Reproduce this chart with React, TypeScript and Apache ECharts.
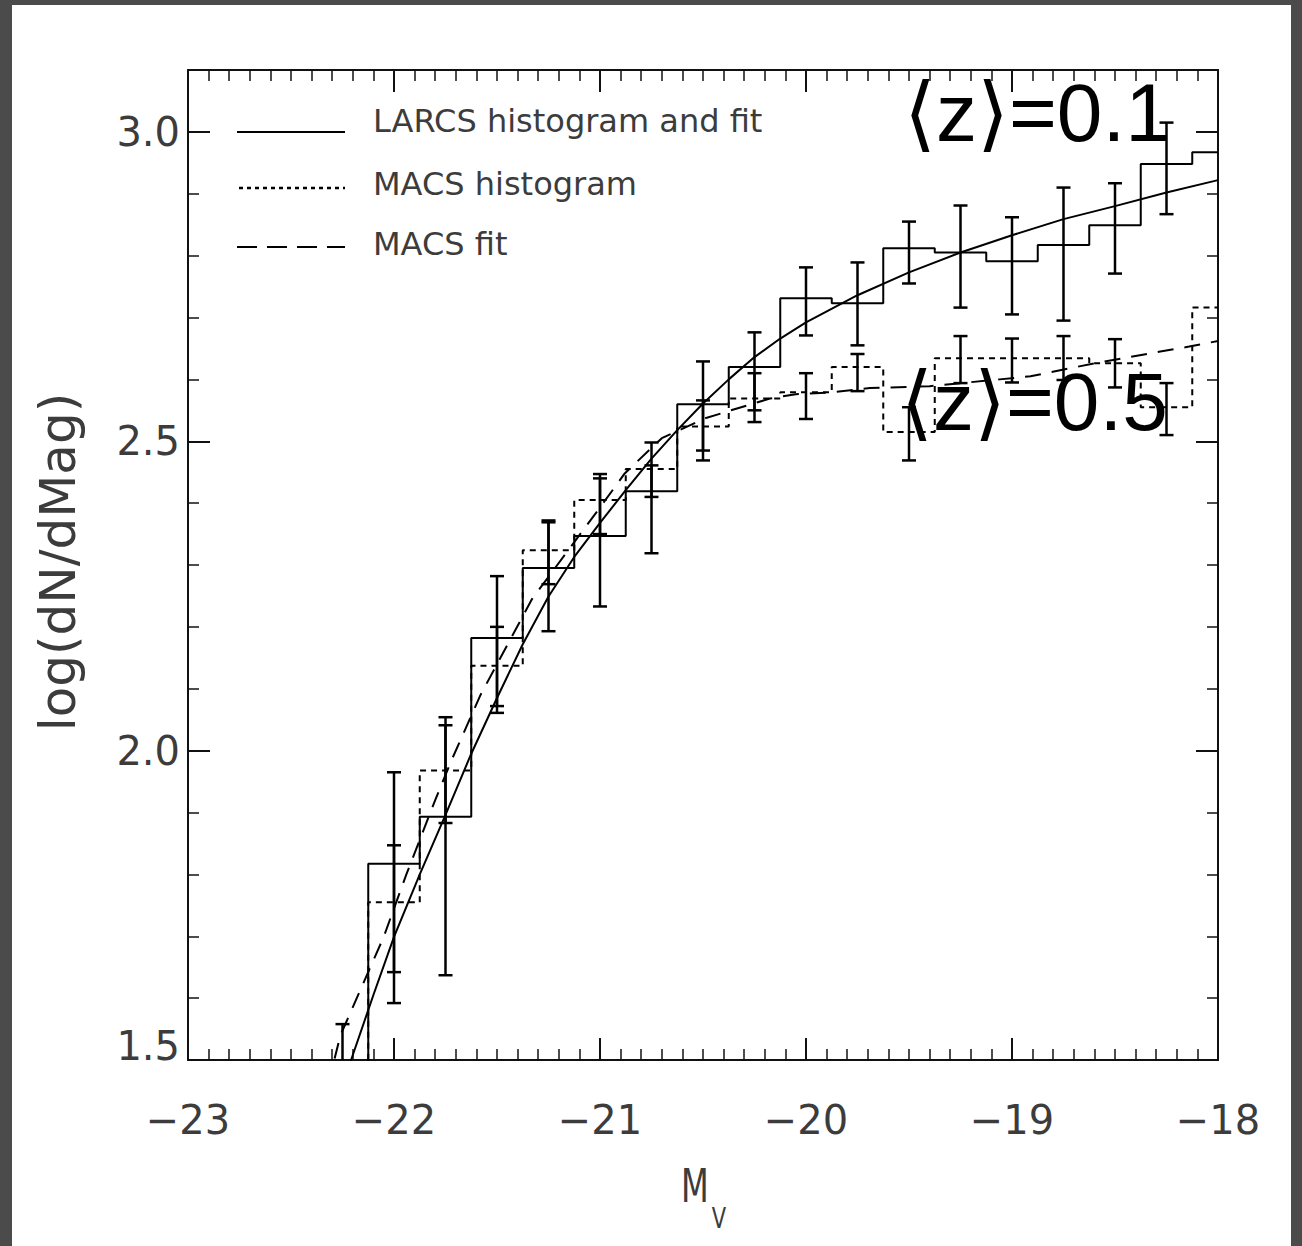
import React, { useEffect, useRef } from "react";
import * as echarts from "echarts";

// ---- data ----
const binCenters = [-22.25, -22.0, -21.75, -21.5, -21.25, -21.0, -20.75, -20.5, -20.25, -20.0, -19.75, -19.5, -19.25, -19.0, -18.75, -18.5, -18.25, -18.0];
const larcsHist = [1.40, 1.817, 1.893, 2.182, 2.295, 2.347, 2.419, 2.560, 2.620, 2.731, 2.723, 2.812, 2.805, 2.791, 2.817, 2.849, 2.948, 2.967];
const macsHist = [1.40, 1.755, 1.968, 2.137, 2.324, 2.405, 2.455, 2.524, 2.569, 2.579, 2.620, 2.515, 2.634, 2.634, 2.634, 2.626, 2.555, 2.716];

const larcsErrX = [-22.0, -21.75, -21.5, -21.25, -21.0, -20.75, -20.5, -20.25, -20.0, -19.75, -19.5, -19.25, -19.0, -18.75, -18.5, -18.25];
const larcsLow = [1.592, 1.637, 2.061, 2.193, 2.233, 2.319, 2.485, 2.550, 2.671, 2.655, 2.755, 2.716, 2.705, 2.695, 2.771, 2.867];
const larcsHigh = [1.965, 2.054, 2.282, 2.372, 2.440, 2.461, 2.629, 2.676, 2.781, 2.789, 2.855, 2.881, 2.862, 2.910, 2.917, 3.015];

const macsErrX = [-22.25, -22.0, -21.75, -21.5, -21.25, -21.0, -20.75, -20.5, -20.25, -20.0, -19.75, -19.5, -19.25, -19.0, -18.75, -18.5, -18.25];
const macsLow = [1.30, 1.642, 1.883, 2.072, 2.269, 2.350, 2.410, 2.469, 2.531, 2.536, 2.581, 2.469, 2.594, 2.595, 2.599, 2.587, 2.510];
const macsHigh = [1.558, 1.847, 2.041, 2.200, 2.369, 2.447, 2.498, 2.566, 2.610, 2.610, 2.641, 2.555, 2.670, 2.666, 2.670, 2.665, 2.594];

const larcsFitX = [-22.3, -22.2, -22.1, -22.0, -21.875, -21.75, -21.625, -21.5, -21.375, -21.25, -21.125, -21.0, -20.875, -20.75, -20.625, -20.5, -20.375, -20.25, -20.125, -20.0, -19.75, -19.5, -19.25, -19.0, -18.75, -18.5, -18.25, -18.0];
const larcsFitY = [1.41, 1.508, 1.605, 1.699, 1.800, 1.896, 1.995, 2.085, 2.172, 2.249, 2.313, 2.368, 2.421, 2.472, 2.518, 2.561, 2.600, 2.636, 2.666, 2.692, 2.736, 2.773, 2.805, 2.833, 2.859, 2.880, 2.902, 2.922];

const macsFitX = [-22.32, -22.26, -22.05, -21.94, -21.8, -21.72, -21.58, -21.33, -21.0, -20.88, -20.7, -20.49, -20.335, -20.175, -20.05, -19.88, -19.69, -19.4, -19.06, -18.91, -18.6, -18.43, -18.28, -18.14, -18.0];
const macsFitY = [1.46, 1.54, 1.699, 1.80, 1.92, 1.985, 2.09, 2.245, 2.393, 2.448, 2.505, 2.537, 2.553, 2.569, 2.576, 2.579, 2.586, 2.589, 2.600, 2.605, 2.626, 2.636, 2.645, 2.653, 2.662];

const xTickLabels = ["−23", "−22", "−21", "−20", "−19", "−18"];
const legendLabels = ["LARCS histogram and fit", "MACS histogram", "MACS fit"];
const annotations = ["⟨z⟩=0.1", "⟨z⟩=0.5"];

// ---- layout ----
const OX = 12;
const OY = 5;
const W = 1302 - OX - 11;
const H = 1246 - OY;
const FRAME = "#4b4b4b";
const LABEL = "#3c3c3c";
const FONT = "'DejaVu Sans', sans-serif";

const zip = (xs: number[], ys: number[]) => xs.map((x, i) => [x, ys[i]]);
const zip3 = (xs: number[], a: number[], b: number[]) => xs.map((x, i) => [x, a[i], b[i]]);

const errRender = (params: any, api: any) => {
  const x = api.value(0);
  const lo = api.value(1);
  const hi = api.value(2);
  const pLo = api.coord([x, lo]);
  const pHi = api.coord([x, hi]);
  const cs = params.coordSys;
  const top = cs.y;
  const bottom = cs.y + cs.height;
  const cap = 7;
  const st = { stroke: "#000", lineWidth: 2.5 };
  const y1 = Math.max(pHi[1], top);
  const y2 = Math.min(pLo[1], bottom);
  const children: any[] = [
    { type: "line", shape: { x1: pHi[0], y1, x2: pHi[0], y2 }, style: st },
  ];
  if (pHi[1] >= top) children.push({ type: "line", shape: { x1: pHi[0] - cap, y1: pHi[1], x2: pHi[0] + cap, y2: pHi[1] }, style: st });
  if (pLo[1] <= bottom) children.push({ type: "line", shape: { x1: pLo[0] - cap, y1: pLo[1], x2: pLo[0] + cap, y2: pLo[1] }, style: st });
  return { type: "group", children };
};

export default function App() {
  const ref = useRef<HTMLDivElement>(null);
  useEffect(() => {
    const chart = echarts.init(ref.current!, null, { renderer: "svg" });
    const gx = (v: number) => v - OX;
    const gy = (v: number) => v - OY;
    const axisLine = { show: true, lineStyle: { color: "#111", width: 2 } };
    const xCommon = {
      type: "value",
      min: -23,
      max: -18,
      interval: 1,
      axisLine,
      axisTick: { show: true, inside: true, length: 22, lineStyle: { color: "#111", width: 2 } },
      minorTick: { show: true, splitNumber: 10, length: 11, lineStyle: { color: "#111", width: 1.5 } },
      splitLine: { show: false },
    };
    const yMajor = {
      type: "value",
      min: 1.5,
      max: 3.1,
      interval: 0.5,
      axisLine,
      axisTick: { show: true, inside: true, length: 22, lineStyle: { color: "#111", width: 2 } },
      splitLine: { show: false },
    };
    const yMinor = {
      type: "value",
      min: 1.5,
      max: 3.1,
      interval: 0.1,
      axisLine: { show: false },
      axisTick: { show: true, inside: true, length: 11, lineStyle: { color: "#111", width: 1.5 } },
      axisLabel: { show: false },
      splitLine: { show: false },
    };
    const annFont = "'Liberation Sans', 'DejaVu Sans', sans-serif";
    const option: any = {
      animation: false,
      backgroundColor: "#ffffff",
      grid: { left: gx(188), top: gy(70), width: 1030, height: 990, containLabel: false },
      xAxis: [
        {
          ...xCommon,
          position: "bottom",
          axisLabel: {
            show: true,
            margin: 40,
            fontSize: 40,
            fontFamily: FONT,
            color: LABEL,
            formatter: (v: number) => xTickLabels[Math.round(v + 23)] ?? "",
          },
        },
        { ...xCommon, position: "top", axisLabel: { show: false } },
      ],
      yAxis: [
        {
          ...yMajor,
          position: "left",
          axisLabel: {
            show: true,
            margin: 8,
            fontSize: 40,
            fontFamily: FONT,
            color: LABEL,
            formatter: (v: number) => {
              if (Math.abs(v * 2 - Math.round(v * 2)) > 1e-6) return "";
              if (Math.abs(v - 1.5) < 1e-6) return "{low|1.5}";
              return v.toFixed(1);
            },
            rich: { low: { fontSize: 40, fontFamily: FONT, color: LABEL, padding: [0, 0, 28, 0] } },
          },
        },
        { ...yMinor, position: "left" },
        { ...yMajor, position: "right", axisLabel: { show: false } },
        { ...yMinor, position: "right" },
      ],
      series: [
        {
          type: "line",
          name: "LARCS histogram",
          data: zip(binCenters, larcsHist),
          step: "middle",
          symbol: "none",
          lineStyle: { color: "#000", width: 2 },
          z: 3,
        },
        {
          type: "line",
          name: "MACS histogram",
          data: zip(binCenters, macsHist),
          step: "middle",
          symbol: "none",
          lineStyle: { color: "#000", width: 2, type: [6, 5] },
          z: 3,
        },
        {
          type: "line",
          name: "LARCS fit",
          data: zip(larcsFitX, larcsFitY),
          smooth: false,
          symbol: "none",
          lineStyle: { color: "#000", width: 2 },
          z: 3,
        },
        {
          type: "line",
          name: "MACS fit",
          data: zip(macsFitX, macsFitY),
          smooth: false,
          symbol: "none",
          lineStyle: { color: "#000", width: 2, type: [16, 11] },
          z: 3,
        },
        {
          type: "custom",
          name: "LARCS errors",
          data: zip3(larcsErrX, larcsLow, larcsHigh),
          encode: { x: 0, y: [1, 2] },
          renderItem: errRender,
          z: 4,
        },
        {
          type: "custom",
          name: "MACS errors",
          data: zip3(macsErrX, macsLow, macsHigh),
          encode: { x: 0, y: [1, 2] },
          renderItem: errRender,
          z: 4,
        },
      ],
      graphic: [
        { type: "line", shape: { x1: gx(237), y1: gy(132), x2: gx(345), y2: gy(132) }, style: { stroke: "#000", lineWidth: 2 } },
        { type: "line", shape: { x1: gx(239), y1: gy(188), x2: gx(345), y2: gy(188) }, style: { stroke: "#000", lineWidth: 2.5, lineDash: [4, 4] } },
        { type: "line", shape: { x1: gx(237), y1: gy(247), x2: gx(345), y2: gy(247) }, style: { stroke: "#000", lineWidth: 2, lineDash: [20, 10] } },
        { type: "text", x: gx(373), y: gy(121), style: { text: legendLabels[0], fontSize: 32, fontFamily: FONT, fill: LABEL, align: "left", verticalAlign: "middle" } },
        { type: "text", x: gx(373), y: gy(184), style: { text: legendLabels[1], fontSize: 32, fontFamily: FONT, fill: LABEL, align: "left", verticalAlign: "middle" } },
        { type: "text", x: gx(373), y: gy(244), style: { text: legendLabels[2], fontSize: 32, fontFamily: FONT, fill: LABEL, align: "left", verticalAlign: "middle" } },
        { type: "text", z: 100, x: gx(904), y: gy(112), style: { text: annotations[0], fontSize: 82, fontFamily: annFont, fill: "#000", align: "left", verticalAlign: "middle" } },
        { type: "text", z: 100, x: gx(901), y: gy(401), style: { text: annotations[1], fontSize: 82, fontFamily: annFont, fill: "#000", align: "left", verticalAlign: "middle" } },
        { type: "text", x: gx(58), y: gy(562), rotation: Math.PI / 2, style: { text: "log(dN/dMag)", fontSize: 50, fontFamily: FONT, fill: LABEL, align: "center", verticalAlign: "middle" } },
        { type: "text", x: gx(695), y: gy(1186), scaleX: 0.7, style: { text: "M", fontSize: 46, fontFamily: FONT, fill: LABEL, align: "center", verticalAlign: "middle" } },
        { type: "text", x: gx(719), y: gy(1218), scaleX: 0.75, style: { text: "V", fontSize: 28, fontFamily: FONT, fill: LABEL, align: "center", verticalAlign: "middle" } },
      ],
    };
    chart.setOption(option);
    return () => chart.dispose();
  }, []);
  return (
    <div style={{ position: "fixed", left: 0, top: 0, width: 1302, height: 1246, background: FRAME }}>
      <div ref={ref} style={{ position: "absolute", left: OX, top: OY, width: W, height: H, background: "#fff" }} />
    </div>
  );
}
